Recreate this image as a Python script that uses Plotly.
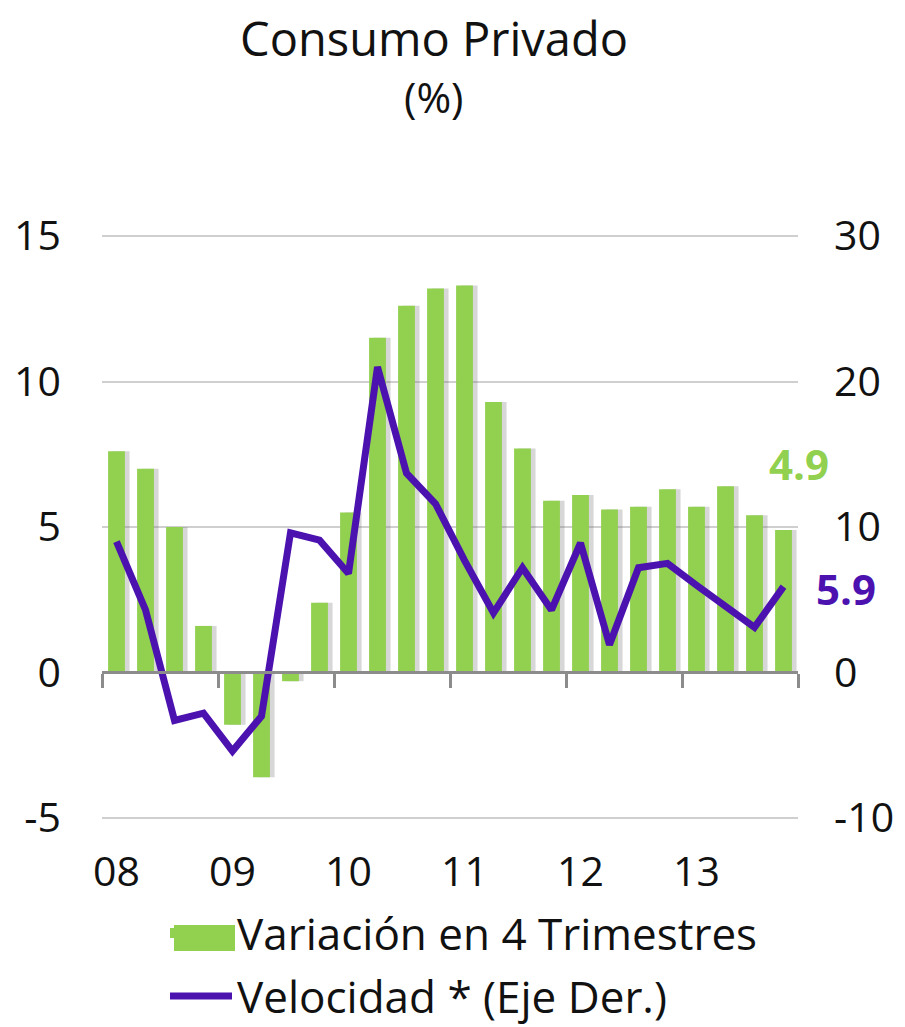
import plotly.graph_objects as go

# ---- data ----
years = ["08", "09", "10", "11", "12", "13"]
quarters = ["I", "II", "III", "IV"]
periods = [f"{q}-{y}" for y in years for q in quarters]

variacion_4t = [7.6, 7.0, 5.0, 1.6, -1.8, -3.6, -0.3, 2.4,
                5.5, 11.5, 12.6, 13.2, 13.3, 9.3, 7.7, 5.9,
                6.1, 5.6, 5.7, 6.3, 5.7, 6.4, 5.4, 4.9]
velocidad = [9.0, 4.3, -3.3, -2.8, -5.4, -3.0, 9.6, 9.1,
             6.8, 21.0, 13.7, 11.6, 7.7, 4.1, 7.2, 4.3,
             8.9, 1.9, 7.2, 7.5, 6.0, 4.5, 3.1, 5.9]

left_ticks = [-5, 0, 5, 10, 15]
right_ticks = [-10, 0, 10, 20, 30]

GREEN = "#92D050"
PURPLE = "#4C12B0"
FONT = "Open Sans"

x = list(range(len(periods)))
year_pos = [i for i, p in enumerate(periods) if p.startswith("I-")]
year_txt = [p.split("-")[1] for p in periods if p.startswith("I-")]
bounds = [i - 0.5 for i in year_pos] + [len(periods) - 0.5]

BW = 0.58
OFF = 8                     # page body margin offset
W, H = 905 - OFF, 1027 - OFF
L, R, T, B = 94, 107, 226, 207
PW, PH = W - L - R, H - T - B

# small padding so gridlines at the range ends stay visible
YL = [left_ticks[0] - 0.07, left_ticks[-1] + 0.07]
YR = [right_ticks[0] - 0.14, right_ticks[-1] + 0.14]


def px(xs):                 # screen x -> paper x
    return (xs - OFF - L) / PW


def py(ys):                 # screen y -> paper y
    return (H - B - (ys - OFF)) / PH


def cx(xs):                 # screen x -> container x
    return (xs - OFF) / W


def cy(ys):                 # screen y -> container y
    return 1 - (ys - OFF) / H


fig = go.Figure()
# soft shadow behind bars
fig.add_trace(go.Bar(x=x, y=variacion_4t, width=BW, offset=-BW / 2 + 0.16,
                     marker=dict(color="rgba(110,110,110,0.28)", line=dict(width=0)),
                     showlegend=False, hoverinfo="skip"))
fig.add_trace(go.Bar(x=x, y=variacion_4t, width=BW, offset=-BW / 2,
                     marker=dict(color=GREEN, line=dict(width=0)),
                     name="Variación en 4 Trimestres", showlegend=False))
# legend entry for bars
fig.add_trace(go.Scatter(x=[None], y=[None], mode="lines",
                         line=dict(color=GREEN, width=10),
                         name="Variación en 4 Trimestres", legend="legend"))
fig.add_trace(go.Scatter(x=x, y=velocidad, mode="lines", xaxis="x2", yaxis="y2",
                         line=dict(color=PURPLE, width=7),
                         name="Velocidad * (Eje Der.)", legend="legend2"))

fig.update_layout(
    width=W, height=H,
    margin=dict(l=L, r=R, t=T, b=B, autoexpand=False),
    paper_bgcolor="white", plot_bgcolor="white",
    font=dict(family=FONT, color="#111111", size=44),
    barmode="overlay",
    title=dict(text="Consumo Privado",
               x=cx(434), xanchor="center",
               yref="container", y=cy(40), yanchor="middle",
               font=dict(family=FONT, size=47, color="#111111")),
    xaxis=dict(range=[-0.5, len(periods) - 0.5], anchor="free",
               position=(0 - YL[0]) / (YL[1] - YL[0]),
               showline=True, linecolor="#8c8c8c", linewidth=3,
               tickmode="array", tickvals=bounds, ticks="outside",
               ticklen=14, tickwidth=3, tickcolor="#8c8c8c",
               showticklabels=False, showgrid=False, zeroline=False,
               automargin=False),
    xaxis2=dict(range=[-0.5, len(periods) - 0.5], overlaying="x", anchor="y",
                side="bottom", tickmode="array", tickvals=year_pos, ticktext=year_txt,
                ticks="", ticklabelstandoff=24, showline=False, showgrid=False,
                zeroline=False, tickfont=dict(size=41), automargin=False),
    yaxis=dict(range=YL, tickmode="array", tickvals=left_ticks,
               ticktext=[str(v) for v in left_ticks],
               showgrid=True, gridcolor="#cfcfcf", gridwidth=1.5,
               zeroline=False, ticks="", ticklabelstandoff=40,
               tickfont=dict(size=41), automargin=False),
    yaxis2=dict(range=YR, tickmode="array", tickvals=right_ticks,
                ticktext=[str(v) for v in right_ticks],
                overlaying="y", side="right", anchor="x",
                showgrid=False, zeroline=False, ticks="", ticklabelstandoff=35,
                tickfont=dict(size=41), automargin=False),
    legend=dict(xref="container", yref="container", x=cx(165), y=cy(898),
                xanchor="left", yanchor="top", itemwidth=62,
                bgcolor="rgba(0,0,0,0)", font=dict(size=44, family=FONT),
                tracegroupgap=0),
    legend2=dict(xref="container", yref="container", x=cx(165), y=cy(961),
                 xanchor="left", yanchor="top", itemwidth=62,
                 bgcolor="rgba(0,0,0,0)", font=dict(size=44, family=FONT)),
    annotations=[
        dict(text="(%)", xref="paper", yref="paper",
             x=px(434), y=py(97), xanchor="center", yanchor="middle",
             showarrow=False, font=dict(size=42, color="#111111", family=FONT)),
        dict(text="<b>4.9</b>", xref="paper", yref="paper",
             x=px(799), y=py(463), xanchor="center", yanchor="middle",
             showarrow=False, font=dict(size=42, color=GREEN, family=FONT)),
        dict(text="<b>5.9</b>", xref="paper", yref="paper",
             x=px(846), y=py(588), xanchor="center", yanchor="middle",
             showarrow=False, font=dict(size=42, color=PURPLE, family=FONT)),
    ],
    shapes=[
        dict(type="rect", xref="paper", yref="paper", layer="above",
             x0=px(174), x1=px(235), y0=py(951), y1=py(925),
             fillcolor=GREEN, line=dict(width=0)),
    ],
)

fig.write_html("out.html")
